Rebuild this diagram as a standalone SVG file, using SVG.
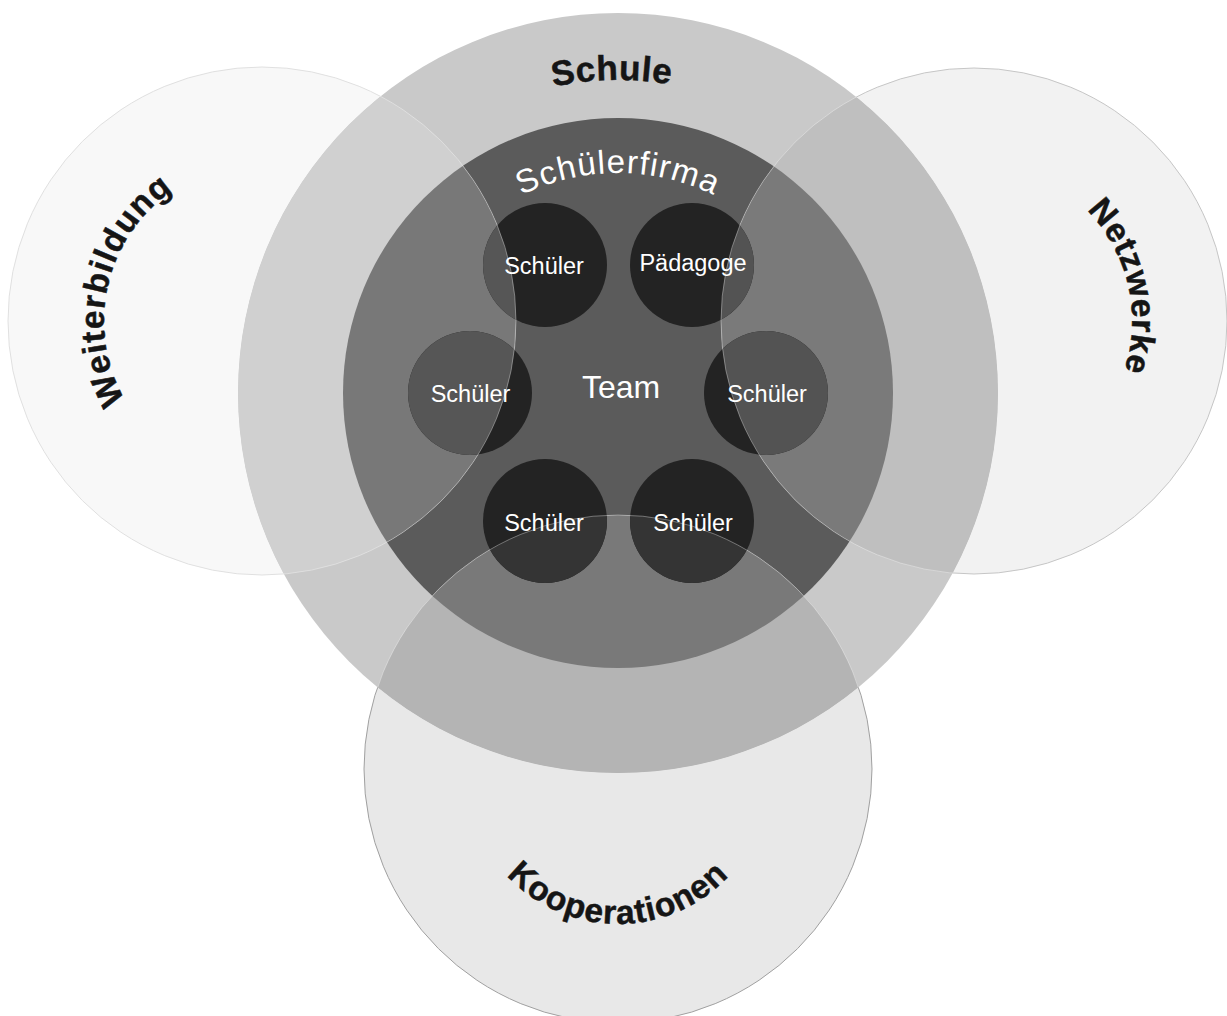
<svg xmlns="http://www.w3.org/2000/svg" width="1227" height="1016" viewBox="0 0 1227 1016">
<style>
.lbl{font-family:"Liberation Sans",Arial,sans-serif;font-weight:bold;fill:#151515;stroke:#151515;stroke-width:.5px;font-size:33.5px;letter-spacing:1px}
.firm{font-family:"Liberation Sans",Arial,sans-serif;fill:#fff;font-size:33px;letter-spacing:1.2px}
.inner{font-family:"Liberation Sans",Arial,sans-serif;fill:#fff;font-size:23.5px;text-anchor:middle}
.team{font-family:"Liberation Sans",Arial,sans-serif;fill:#fff;font-size:32px;text-anchor:middle}
.small{fill:#232323}
.edgeIn{fill:none;stroke:#fff;stroke-opacity:.35;stroke-width:1}
</style>
<defs>
<clipPath id="cWeit"><circle cx="262" cy="321" r="254"/></clipPath>
<clipPath id="cNetz"><circle cx="974" cy="321" r="253"/></clipPath>
<clipPath id="cKoop"><circle cx="618" cy="769" r="254"/></clipPath>
<clipPath id="outS"><path clip-rule="evenodd" d="M0 0H1227V1016H0Z M238,393 a380,380 0 1,0 760,0 a380,380 0 1,0 -760,0Z"/></clipPath>
<clipPath id="inS"><circle cx="618" cy="393" r="380"/></clipPath>
<path id="pSchule" d="M412.2,157.2 A313,313 0 0 1 814.6,149.4"/>
<path id="pFirma" d="M449.5,251.6 A220,220 0 0 1 786.5,251.6"/>
<path id="pWeit" d="M154.2,436.6 A158,158 0 0 1 215.8,169.9"/>
<path id="pNetz" d="M1020.2,169.9 A158,158 0 0 1 1081.8,436.6"/>
<path id="pKoop" d="M486.4,848 A152,152 0 0 0 749.6,848"/>
</defs>
<rect width="1227" height="1016" fill="#fff"/>

<g id="node-schule">
<circle cx="618" cy="393" r="380" fill="#c9c9c9"/>
<text class="lbl" style="font-size:35px;letter-spacing:.6px"><textPath href="#pSchule" startOffset="50%" text-anchor="middle">Schule</textPath></text>
</g>

<g id="node-schuelerfirma">
<circle cx="618" cy="393" r="275" fill="#5b5b5b"/>
<text class="firm"><textPath href="#pFirma" startOffset="50%" text-anchor="middle">Schülerfirma</textPath></text>
</g>

<g id="node-weiterbildung">
<circle cx="262" cy="321" r="254" fill="#f8f8f8" clip-path="url(#outS)"/>
<g clip-path="url(#cWeit)">
<circle cx="618" cy="393" r="380" fill="#d0d0d0"/>
<circle cx="618" cy="393" r="275" fill="#787878"/>
</g>
<text class="lbl" style="letter-spacing:1.1px"><textPath href="#pWeit" startOffset="50%" text-anchor="middle">Weiterbildung</textPath></text>
</g>

<g id="node-netzwerke">
<circle cx="974" cy="321" r="253" fill="#f2f2f2" clip-path="url(#outS)"/>
<g clip-path="url(#cNetz)">
<circle cx="618" cy="393" r="380" fill="#bfbfbf"/>
<circle cx="618" cy="393" r="275" fill="#7a7a7a"/>
</g>
<text class="lbl" style="letter-spacing:.9px"><textPath href="#pNetz" startOffset="50%" text-anchor="middle">Netzwerke</textPath></text>
</g>

<g id="node-kooperationen">
<circle cx="618" cy="769" r="254" fill="#e8e8e8" clip-path="url(#outS)"/>
<g clip-path="url(#cKoop)">
<circle cx="618" cy="393" r="380" fill="#b4b4b4"/>
<circle cx="618" cy="393" r="275" fill="#797979"/>
</g>
<text class="lbl"><textPath href="#pKoop" startOffset="50%" text-anchor="middle">Kooperationen</textPath></text>
</g>

<g id="node-schueler-1">
<circle class="small" cx="545" cy="265" r="62"/>
<circle cx="545" cy="265" r="62" fill="#565656" clip-path="url(#cWeit)"/>
<text class="inner" x="544" y="274">Schüler</text>
</g>
<g id="node-paedagoge">
<circle class="small" cx="692" cy="265" r="62"/>
<circle cx="692" cy="265" r="62" fill="#535353" clip-path="url(#cNetz)"/>
<text class="inner" x="693" y="271">Pädagoge</text>
</g>
<g id="node-schueler-2">
<circle class="small" cx="470" cy="393" r="62"/>
<circle cx="470" cy="393" r="62" fill="#565656" clip-path="url(#cWeit)"/>
<text class="inner" x="470.5" y="402">Schüler</text>
</g>
<g id="node-schueler-3">
<circle class="small" cx="766" cy="393" r="62"/>
<circle cx="766" cy="393" r="62" fill="#535353" clip-path="url(#cNetz)"/>
<text class="inner" x="767" y="402">Schüler</text>
</g>
<g id="node-schueler-4">
<circle class="small" cx="545" cy="521" r="62"/>
<circle cx="545" cy="521" r="62" fill="#343434" clip-path="url(#cKoop)"/>
<text class="inner" x="544" y="531">Schüler</text>
</g>
<g id="node-schueler-5">
<circle class="small" cx="692" cy="521" r="62"/>
<circle cx="692" cy="521" r="62" fill="#343434" clip-path="url(#cKoop)"/>
<text class="inner" x="693" y="531">Schüler</text>
</g>

<g id="node-team">
<text class="team" x="621" y="398">Team</text>
</g>

<g id="connectors"></g>

<g id="outlines">
<g clip-path="url(#outS)" fill="none" stroke-width="1">
<circle cx="262" cy="321" r="254" stroke="#e0e0e0"/>
<circle cx="974" cy="321" r="253" stroke="#c6c6c6"/>
<circle cx="618" cy="769" r="254" stroke="#a0a0a0"/>
</g>
<g clip-path="url(#inS)">
<circle class="edgeIn" cx="262" cy="321" r="254"/>
<circle class="edgeIn" cx="974" cy="321" r="253"/>
<circle class="edgeIn" cx="618" cy="769" r="254"/>
</g>
</g>
</svg>
